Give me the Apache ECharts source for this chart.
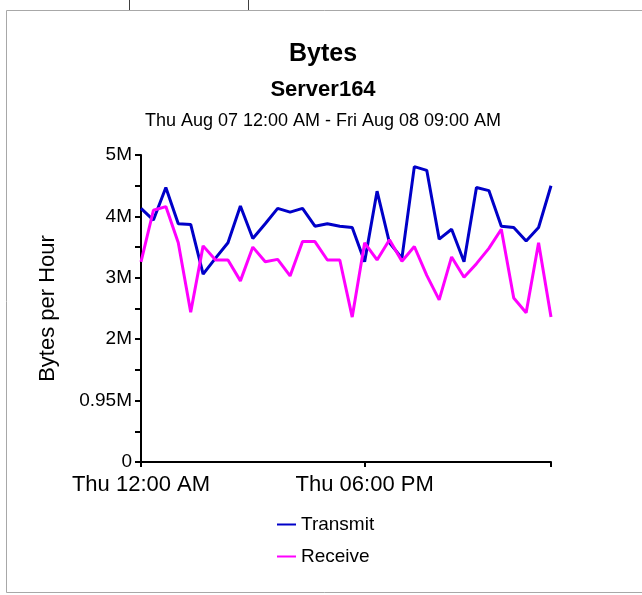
<!DOCTYPE html>
<html>
<head>
<meta charset="utf-8">
<script src="https://cdn.jsdelivr.net/npm/echarts@6/dist/echarts.min.js"></script>
<style>html,body{margin:0;padding:0;background:#fff;}#c{width:642px;height:595px;}</style>
</head>
<body>
<div id="c"></div>
<script>
var hours = [0,1,2,3,4,5,6,7,8,9,10,11,12,13,14,15,16,17,18,19,20,21,22,23,24,25,26,27,28,29,30,31,32,33];
var transmit = [4.13,3.94,4.47,3.88,3.87,3.06,3.32,3.57,4.17,3.64,3.88,4.13,4.07,4.13,3.84,3.88,3.84,3.82,3.26,4.41,3.57,3.32,4.81,4.75,3.63,3.79,3.26,4.47,4.42,3.84,3.82,3.60,3.82,4.50];
var receive  = [3.26,4.10,4.16,3.57,2.44,3.52,3.29,3.29,2.95,3.50,3.26,3.30,3.03,3.59,3.59,3.29,3.29,2.36,3.57,3.29,3.62,3.27,3.51,3.04,2.64,3.34,3.01,3.23,3.48,3.79,2.67,2.43,3.57,2.36];
var yTickLabels = ["0","0.95M","2M","3M","4M","5M"];
var xTickHours = [0, 18];
var xTickLabels = ["Thu 12:00 AM", "Thu 06:00 PM"];

function pairs(v){ return hours.map(function(h,i){ return [h, v[i]*1e6]; }); }

var font = '"Liberation Sans", Arial, sans-serif';
var chart = echarts.init(document.getElementById('c'), null, {renderer:'canvas'});
chart.setOption({
  backgroundColor: '#ffffff',
  animation: false,
  title: [
    {text:'Bytes', left:318, top:37, textAlign:'center', textStyle:{fontFamily:font, fontSize:25, fontWeight:'bold', color:'#000'}},
    {text:'Server164', left:318, top:74, textAlign:'center', textStyle:{fontFamily:font, fontSize:22, fontWeight:'bold', color:'#000'}},
    {text:'Thu Aug 07 12:00 AM - Fri Aug 08 09:00 AM', left:318, top:107, textAlign:'center', textStyle:{fontFamily:font, fontSize:18, fontWeight:'normal', color:'#000'}}
  ],
  graphic: [
    {type:'rect', shape:{x:6.5, y:10.5, width:660, height:582}, style:{fill:'none', stroke:'#a8a8a8', lineWidth:1}, silent:true},
    {type:'line', shape:{x1:129.5, y1:0, x2:129.5, y2:10}, style:{stroke:'#404040', lineWidth:1}, silent:true},
    {type:'line', shape:{x1:248.5, y1:0, x2:248.5, y2:10}, style:{stroke:'#404040', lineWidth:1}, silent:true}
  ],
  legend: {
    orient:'vertical', left:272, top:510,
    itemWidth:19, itemHeight:12, itemGap:13,
    icon:'rect',
    data:[
      {name:'Transmit', icon:'path://M0,5 L19,5 L19,7 L0,7 Z'},
      {name:'Receive', icon:'path://M0,5 L19,5 L19,7 L0,7 Z'}
    ],
    textStyle:{fontFamily:font, fontSize:19, color:'#000', padding:[0,0,0,0], lineHeight:19}
  },
  grid: {left:141, right:91, top:155, bottom:133, containLabel:false},
  xAxis: {
    type:'value', min:0, max:33, interval:18,
    axisLine:{show:true, lineStyle:{color:'#000', width:2}},
    axisTick:{show:true, length:5, lineStyle:{color:'#000', width:2}},
    axisLabel:{fontFamily:font, fontSize:22, color:'#000', margin:12,
      formatter:function(v){ var i = xTickHours.indexOf(v); return i>=0 ? xTickLabels[i] : ''; }},
    splitLine:{show:false}
  },
  yAxis: {
    type:'value', min:0, max:5e6, interval:1e6,
    name:'Bytes per Hour', nameLocation:'middle', nameGap:82, nameRotate:90,
    nameTextStyle:{fontFamily:font, fontSize:22, color:'#000'},
    axisLine:{show:true, lineStyle:{color:'#000', width:2}},
    axisTick:{show:true, length:6, lineStyle:{color:'#000', width:2}},
    minorTick:{show:true, splitNumber:2, length:6, lineStyle:{color:'#000', width:2}},
    axisLabel:{fontFamily:font, fontSize:19, color:'#000', margin:9,
      formatter:function(v){ return yTickLabels[Math.round(v/1e6)]; }},
    splitLine:{show:false}
  },
  series: [
    {name:'Transmit', type:'line', data:pairs(transmit), symbol:'none', lineStyle:{color:'#0000c8', width:3}, itemStyle:{color:'#0000c8'}},
    {name:'Receive', type:'line', data:pairs(receive), symbol:'none', lineStyle:{color:'#ff00ff', width:3}, itemStyle:{color:'#ff00ff'}}
  ]
});
</script>
</body>
</html>
